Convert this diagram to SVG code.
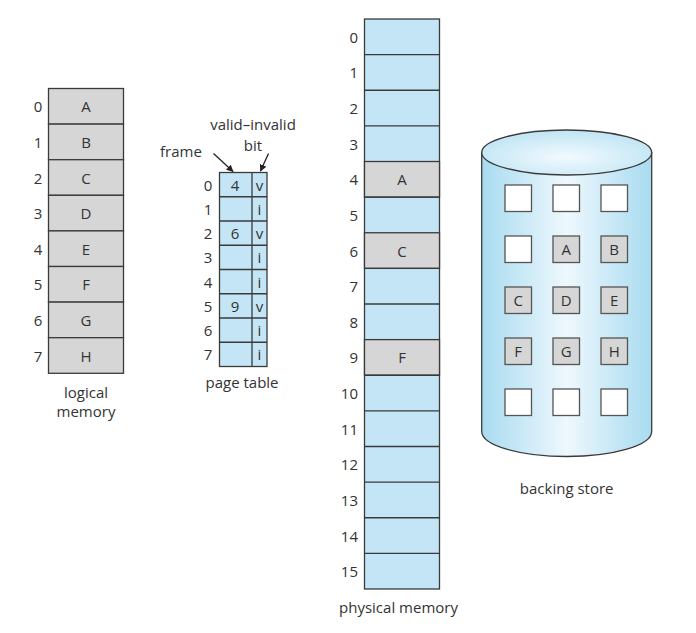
<svg xmlns="http://www.w3.org/2000/svg" width="696" height="633" viewBox="0 0 696 633">
<defs>
<style>
text{font-family:"Open Sans","Noto Sans",sans-serif;fill:#333;font-size:15px}
.c{text-anchor:middle;dominant-baseline:central}
.r{text-anchor:end;dominant-baseline:central}
.lbl{text-anchor:middle}
.g{fill:#d6d6d6;stroke:#3a3a3a;stroke-width:1.3}
.b{fill:#c3e5f5;stroke:#3a3a3a;stroke-width:1.3}
.w{fill:#fff;stroke:#555;stroke-width:1.3}
.sq{fill:#d6d6d6;stroke:#555;stroke-width:1.3}
.conn{stroke:#222;stroke-width:1.3;fill:none;marker-end:url(#ah)}
</style>
<marker id="ah" viewBox="0 0 10 10" refX="9" refY="5" markerWidth="7" markerHeight="7" orient="auto" markerUnits="userSpaceOnUse">
<path d="M0,0 L10,5 L0,10 z" fill="#222"/>
</marker>
<linearGradient id="body" x1="0" y1="0" x2="1" y2="0">
<stop offset="0" stop-color="#a8dbf0"/>
<stop offset="0.5" stop-color="#eef8fd"/>
<stop offset="1" stop-color="#a8dbf0"/>
</linearGradient>
<radialGradient id="top" cx="0.5" cy="0.6" r="0.6">
<stop offset="0" stop-color="#f2fafe"/>
<stop offset="1" stop-color="#bfe4f4"/>
</radialGradient>
</defs>

<g id="logical-memory">
<rect class="g" x="48.5" y="88.5" width="75" height="35.6"/>
<rect class="g" x="48.5" y="124.1" width="75" height="35.6"/>
<rect class="g" x="48.5" y="159.7" width="75" height="35.6"/>
<rect class="g" x="48.5" y="195.3" width="75" height="35.6"/>
<rect class="g" x="48.5" y="230.9" width="75" height="35.6"/>
<rect class="g" x="48.5" y="266.5" width="75" height="35.6"/>
<rect class="g" x="48.5" y="302.1" width="75" height="35.6"/>
<rect class="g" x="48.5" y="337.7" width="75" height="35.6"/>
<text class="c" x="86" y="106.3">A</text>
<text class="c" x="86" y="141.9">B</text>
<text class="c" x="86" y="177.5">C</text>
<text class="c" x="86" y="213.1">D</text>
<text class="c" x="86" y="248.7">E</text>
<text class="c" x="86" y="284.3">F</text>
<text class="c" x="86" y="319.9">G</text>
<text class="c" x="86" y="355.5">H</text>
<text class="c" x="38" y="106.3">0</text>
<text class="c" x="38" y="141.9">1</text>
<text class="c" x="38" y="177.5">2</text>
<text class="c" x="38" y="213.1">3</text>
<text class="c" x="38" y="248.7">4</text>
<text class="c" x="38" y="284.3">5</text>
<text class="c" x="38" y="319.9">6</text>
<text class="c" x="38" y="355.5">7</text>
<text class="lbl" x="86" y="398">logical</text>
<text class="lbl" x="86" y="417">memory</text>
</g>

<g id="page-table">
<rect class="b" x="219.5" y="172.5" width="47.5" height="194"/>
<line x1="252" y1="172.5" x2="252" y2="366.5" stroke="#3a3a3a" stroke-width="1.3"/>
<g stroke="#3a3a3a" stroke-width="1.3">
<line x1="219.5" y1="196.75" x2="267" y2="196.75"/>
<line x1="219.5" y1="221" x2="267" y2="221"/>
<line x1="219.5" y1="245.25" x2="267" y2="245.25"/>
<line x1="219.5" y1="269.5" x2="267" y2="269.5"/>
<line x1="219.5" y1="293.75" x2="267" y2="293.75"/>
<line x1="219.5" y1="318" x2="267" y2="318"/>
<line x1="219.5" y1="342.25" x2="267" y2="342.25"/>
</g>
<text class="c" x="208" y="184.6">0</text>
<text class="c" x="208" y="208.9">1</text>
<text class="c" x="208" y="233.1">2</text>
<text class="c" x="208" y="257.4">3</text>
<text class="c" x="208" y="281.6">4</text>
<text class="c" x="208" y="305.9">5</text>
<text class="c" x="208" y="330.1">6</text>
<text class="c" x="208" y="354.4">7</text>
<text class="c" x="235" y="184.6">4</text>
<text class="c" x="235" y="233.1">6</text>
<text class="c" x="235" y="305.9">9</text>
<text class="c" x="259.5" y="184.6">v</text>
<text class="c" x="259.5" y="208.9">i</text>
<text class="c" x="259.5" y="233.1">v</text>
<text class="c" x="259.5" y="257.4">i</text>
<text class="c" x="259.5" y="281.6">i</text>
<text class="c" x="259.5" y="305.9">v</text>
<text class="c" x="259.5" y="330.1">i</text>
<text class="c" x="259.5" y="354.4">i</text>
<text class="lbl" x="242" y="388">page table</text>
<text class="lbl" x="181" y="157">frame</text>
<text class="lbl" x="253" y="130">valid–invalid</text>
<text class="lbl" x="253" y="151">bit</text>
</g>

<g id="physical-memory">
<rect class="b" x="364.5" y="19" width="75" height="570"/>
<rect class="g" x="364.5" y="161.5" width="75" height="35.625"/>
<rect class="g" x="364.5" y="232.75" width="75" height="35.625"/>
<rect class="g" x="364.5" y="339.625" width="75" height="35.625"/>
<g stroke="#3a3a3a" stroke-width="1.3">
<line x1="364.5" y1="54.625" x2="439.5" y2="54.625"/>
<line x1="364.5" y1="90.25" x2="439.5" y2="90.25"/>
<line x1="364.5" y1="125.875" x2="439.5" y2="125.875"/>
<line x1="364.5" y1="197.125" x2="439.5" y2="197.125"/>
<line x1="364.5" y1="268.375" x2="439.5" y2="268.375"/>
<line x1="364.5" y1="304" x2="439.5" y2="304"/>
<line x1="364.5" y1="375.25" x2="439.5" y2="375.25"/>
<line x1="364.5" y1="410.875" x2="439.5" y2="410.875"/>
<line x1="364.5" y1="446.5" x2="439.5" y2="446.5"/>
<line x1="364.5" y1="482.125" x2="439.5" y2="482.125"/>
<line x1="364.5" y1="517.75" x2="439.5" y2="517.75"/>
<line x1="364.5" y1="553.375" x2="439.5" y2="553.375"/>
</g>
<text class="c" x="402" y="179.3">A</text>
<text class="c" x="402" y="250.6">C</text>
<text class="c" x="402" y="357.4">F</text>
<text class="r" x="358" y="36.8">0</text>
<text class="r" x="358" y="72.4">1</text>
<text class="r" x="358" y="108.1">2</text>
<text class="r" x="358" y="143.7">3</text>
<text class="r" x="358" y="179.3">4</text>
<text class="r" x="358" y="214.9">5</text>
<text class="r" x="358" y="250.6">6</text>
<text class="r" x="358" y="286.2">7</text>
<text class="r" x="358" y="321.8">8</text>
<text class="r" x="358" y="357.4">9</text>
<text class="r" x="358" y="393.1">10</text>
<text class="r" x="358" y="428.7">11</text>
<text class="r" x="358" y="464.3">12</text>
<text class="r" x="358" y="499.9">13</text>
<text class="r" x="358" y="535.6">14</text>
<text class="r" x="358" y="571.2">15</text>
<text class="lbl" x="398.5" y="613">physical memory</text>
</g>

<g id="backing-store">
<path d="M481.7,152.5 L481.7,431.5 A85,25 0 0 0 651.7,431.5 L651.7,152.5 Z" fill="url(#body)" stroke="#3a3a3a" stroke-width="1.3"/>
<ellipse cx="566.7" cy="152.5" rx="85" ry="22.5" fill="url(#top)" stroke="#3a3a3a" stroke-width="1.3"/>
<rect class="w" x="505" y="185" width="26.5" height="26.5"/>
<rect class="w" x="553" y="185" width="26.5" height="26.5"/>
<rect class="w" x="601" y="185" width="26.5" height="26.5"/>
<rect class="w" x="505" y="236" width="26.5" height="26.5"/>
<rect class="sq" x="553" y="236" width="26.5" height="26.5"/>
<rect class="sq" x="601" y="236" width="26.5" height="26.5"/>
<rect class="sq" x="505" y="287" width="26.5" height="26.5"/>
<rect class="sq" x="553" y="287" width="26.5" height="26.5"/>
<rect class="sq" x="601" y="287" width="26.5" height="26.5"/>
<rect class="sq" x="505" y="338" width="26.5" height="26.5"/>
<rect class="sq" x="553" y="338" width="26.5" height="26.5"/>
<rect class="sq" x="601" y="338" width="26.5" height="26.5"/>
<rect class="w" x="505" y="389" width="26.5" height="26.5"/>
<rect class="w" x="553" y="389" width="26.5" height="26.5"/>
<rect class="w" x="601" y="389" width="26.5" height="26.5"/>
<text class="c" x="566.2" y="249.2">A</text>
<text class="c" x="614.2" y="249.2">B</text>
<text class="c" x="518.2" y="300.2">C</text>
<text class="c" x="566.2" y="300.2">D</text>
<text class="c" x="614.2" y="300.2">E</text>
<text class="c" x="518.2" y="351.2">F</text>
<text class="c" x="566.2" y="351.2">G</text>
<text class="c" x="614.2" y="351.2">H</text>
<text class="lbl" x="566.7" y="494">backing store</text>
</g>

<g id="connectors">
<line class="conn" x1="213.5" y1="153.5" x2="233" y2="171.5"/>
<line class="conn" x1="268.5" y1="153.5" x2="260.5" y2="171"/>
</g>
</svg>
